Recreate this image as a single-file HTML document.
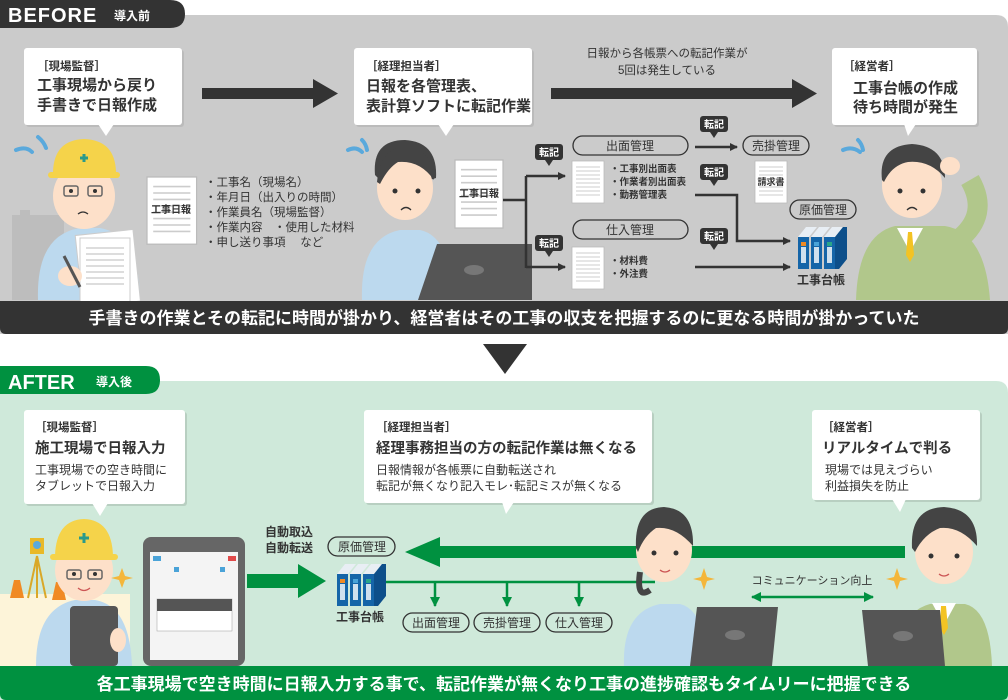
<!DOCTYPE html>
<html><head><meta charset="utf-8"><style>
html,body{margin:0;padding:0;background:#fff;}
svg{display:block;}
text{font-family:"Liberation Sans","Noto Sans CJK JP",sans-serif;}
.b{font-weight:bold;}
</style></head><body>
<svg width="1008" height="700" viewBox="0 0 1008 700" xmlns="http://www.w3.org/2000/svg">
<defs>
<marker id="ad" markerWidth="8" markerHeight="8" refX="7" refY="4" orient="auto" markerUnits="userSpaceOnUse"><path d="M0,0 L8,4 L0,8z" fill="#333"/></marker>
<marker id="ag" markerWidth="10" markerHeight="10" refX="9" refY="5" orient="auto" markerUnits="userSpaceOnUse"><path d="M0,0 L10,5 L0,10z" fill="#009140"/></marker>
<marker id="ag2" markerWidth="10" markerHeight="10" refX="1" refY="5" orient="auto" markerUnits="userSpaceOnUse"><path d="M10,0 L0,5 L10,10z" fill="#009140"/></marker>
<g id="doc"><rect x="0" y="0" width="32" height="42" fill="#fff" stroke="#bbb" stroke-width="0.8"/><g stroke="#ccc" stroke-width="1"><line x1="4" y1="6" x2="28" y2="6"/><line x1="4" y1="10" x2="28" y2="10"/><line x1="4" y1="14" x2="28" y2="14"/><line x1="4" y1="18" x2="28" y2="18"/><line x1="4" y1="22" x2="28" y2="22"/><line x1="4" y1="26" x2="28" y2="26"/><line x1="4" y1="30" x2="28" y2="30"/><line x1="4" y1="34" x2="28" y2="34"/></g></g>
<g id="binders"><g><path d="M0,12 L8,2 L19,2 L11,12z" fill="#e8eef4"/><rect x="0" y="12" width="11" height="32" fill="#1565a8"/></g><g transform="translate(13,0)"><path d="M0,12 L8,2 L19,2 L11,12z" fill="#e8eef4"/><rect x="0" y="12" width="11" height="32" fill="#1565a8"/></g><g transform="translate(26,0)"><path d="M0,12 L8,2 L19,2 L11,12z" fill="#e8eef4"/><rect x="0" y="12" width="11" height="32" fill="#1565a8"/></g><path d="M37,12 L45,2 L49,2 L49,34 L41,44 L37,44z" fill="#0d4f8a"/><rect x="3" y="17" width="5" height="4" fill="#f08a24"/><rect x="16" y="17" width="5" height="4" fill="#4aa3d8"/><rect x="29" y="17" width="5" height="4" fill="#2aa58a"/><g fill="#cfe0ee"><rect x="3" y="22" width="5" height="16"/><rect x="16" y="22" width="5" height="16"/><rect x="29" y="22" width="5" height="16"/></g></g>
<g id="tag"><rect x="0" y="0" width="28" height="16" rx="3" fill="#333"/><path d="M10,16 L14,22 L18,16z" fill="#333"/><text x="14" y="12" font-size="10" fill="#fff" text-anchor="middle" class="b">転記</text></g>
</defs>

<!-- BEFORE panel -->
<path d="M0,15 H996 Q1008,15 1008,27 V334 H0z" fill="#cbcbcb"/>
<path d="M0,0 H170 Q185,0 185,14 Q185,28 170,28 H0z" fill="#333"/>
<text x="8" y="22" font-size="20" fill="#fff" class="b" letter-spacing="1">BEFORE</text>
<text x="114" y="20" font-size="12" fill="#fff" class="b">導入前</text>

<rect x="12" y="215" width="52" height="85" fill="#bdbdbd"/><rect x="20" y="210" width="10" height="8" fill="#bdbdbd"/>

<rect x="26" y="50" width="158" height="77" rx="3" fill="#bbb"/>
<rect x="24" y="48" width="158" height="77" rx="3" fill="#fff"/><path d="M98,124 L106,136 L114,124z" fill="#fff"/>
<text x="37" y="70" font-size="11.5" fill="#333" class="b">［現場監督］</text>
<text x="37" y="90" font-size="15" fill="#333" class="b">工事現場から戻り</text>
<text x="37" y="110" font-size="15" fill="#333" class="b">手書きで日報作成</text>

<rect x="356" y="50" width="178" height="77" rx="3" fill="#bbb"/>
<rect x="354" y="48" width="178" height="77" rx="3" fill="#fff"/><path d="M438,124 L446,136 L454,124z" fill="#fff"/>
<text x="366" y="70" font-size="11.5" fill="#333" class="b">［経理担当者］</text>
<text x="366" y="91" font-size="15" fill="#333" class="b">日報を各管理表、</text>
<text x="366" y="111" font-size="15" fill="#333" class="b">表計算ソフトに転記作業</text>

<rect x="834" y="50" width="145" height="77" rx="3" fill="#bbb"/>
<rect x="832" y="48" width="145" height="77" rx="3" fill="#fff"/><path d="M904,124 L908,136 L916,124z" fill="#fff"/>
<text x="843" y="70" font-size="11.5" fill="#333" class="b">［経営者］</text>
<text x="853" y="93" font-size="15" fill="#333" class="b">工事台帳の作成</text>
<text x="853" y="112" font-size="15" fill="#333" class="b">待ち時間が発生</text>

<path d="M202,88 H313 V79 L338,93.5 L313,108 V99 H202z" fill="#333"/>
<path d="M551,88 H792 V79 L817,93.5 L792,108 V99 H551z" fill="#333"/>
<text x="667" y="57" font-size="11.5" fill="#333" text-anchor="middle">日報から各帳票への転記作業が</text>
<text x="667" y="74" font-size="11.5" fill="#333" text-anchor="middle">5回は発生している</text>

<g>
<path d="M16,150 Q26,146 32,152" stroke="#5aa9dc" stroke-width="4" fill="none" stroke-linecap="round"/>
<path d="M38,137 Q44,142 46,148" stroke="#5aa9dc" stroke-width="4" fill="none" stroke-linecap="round"/>
<path d="M38,300 Q36,235 80,228 H100 Q140,235 140,300z" fill="#bcd9ee"/>
<ellipse cx="84" cy="196" rx="31" ry="33" fill="#fde0c9"/>
<path d="M53,172 Q54,140 84,139 Q115,140 116,172z" fill="#f5d34a"/><rect x="48" y="172" width="72" height="6" rx="3" fill="#f5d34a"/>
<path d="M80,158 h8 M84,154 v8" stroke="#2a9a8a" stroke-width="3"/>
<rect x="64" y="186" width="14" height="10" rx="2" fill="none" stroke="#666" stroke-width="1.5"/><rect x="88" y="186" width="14" height="10" rx="2" fill="none" stroke="#666" stroke-width="1.5"/>
<circle cx="71" cy="191" r="2" fill="#333"/><circle cx="95" cy="191" r="2" fill="#333"/>
<path d="M78,214 Q83,210 88,214" stroke="#333" stroke-width="1.3" fill="none"/>
<g transform="rotate(-6 110 260)"><rect x="78" y="232" width="58" height="72" fill="#fff" stroke="#ccc"/></g>
<rect x="80" y="238" width="50" height="64" fill="#fff" stroke="#ccc"/>
<g stroke="#bbb"><line x1="86" y1="248" x2="124" y2="248"/><line x1="86" y1="254" x2="124" y2="254"/><line x1="86" y1="260" x2="124" y2="260"/><line x1="86" y1="266" x2="124" y2="266"/><line x1="86" y1="272" x2="124" y2="272"/><line x1="86" y1="278" x2="124" y2="278"/><line x1="86" y1="284" x2="124" y2="284"/></g>
<ellipse cx="70" cy="276" rx="12" ry="10" fill="#fde0c9"/><line x1="64" y1="256" x2="80" y2="287" stroke="#555" stroke-width="3"/>
</g>
<use href="#doc" transform="translate(147,177) scale(1.55,1.6)"/>
<text x="171" y="213" font-size="10" fill="#333" class="b" text-anchor="middle">工事日報</text>
<g font-size="11.5" fill="#333">
<text x="205" y="186">・工事名（現場名）</text>
<text x="205" y="201">・年月日（出入りの時間）</text>
<text x="205" y="216">・作業員名（現場監督）</text>
<text x="205" y="231">・作業内容　・使用した材料</text>
<text x="205" y="246">・申し送り事項　 など</text>
</g>

<g>
<path d="M348,150 Q356,146 362,152" stroke="#5aa9dc" stroke-width="4" fill="none" stroke-linecap="round"/>
<path d="M362,140 Q366,144 367,150" stroke="#5aa9dc" stroke-width="4" fill="none" stroke-linecap="round"/>
<path d="M362,300 Q360,238 400,230 H420 Q450,236 455,300z" fill="#bcd9ee"/>
<path d="M375,175 Q372,140 405,140 Q438,142 436,178 L430,180 Q420,160 400,156 Q385,165 380,180z" fill="#444"/>
<ellipse cx="405" cy="188" rx="28" ry="32" fill="#fde0c9"/>
<path d="M377,182 Q380,148 405,146 Q432,148 434,180 Q420,160 398,162 Q388,168 380,184z" fill="#444"/>
<circle cx="395" cy="191" r="2.5" fill="#333"/><circle cx="418" cy="191" r="2.5" fill="#333"/>
<path d="M401,210 Q406,205 411,210" stroke="#333" stroke-width="1.3" fill="none"/>
<path d="M437,244 H532 V300 H418z" fill="#555"/>
<ellipse cx="474" cy="270" rx="10" ry="5" fill="#777"/>
</g>
<use href="#doc" transform="translate(455,160) scale(1.5,1.62)"/>
<text x="479" y="197" font-size="10" fill="#333" class="b" text-anchor="middle">工事日報</text>

<g stroke="#333" stroke-width="2.5" fill="none">
<path d="M503,200 H526"/><path d="M526,176 V268"/>
<path d="M526,176 H565" marker-end="url(#ad)"/><path d="M526,267 H565" marker-end="url(#ad)"/>
<path d="M695,147 H737" marker-end="url(#ad)"/>
<path d="M695,195 H737 V241 H790" marker-end="url(#ad)"/>
<path d="M695,267 H790" marker-end="url(#ad)"/>
</g>
<use href="#tag" x="535" y="144"/><use href="#tag" x="535" y="235"/>
<use href="#tag" x="700" y="116"/><use href="#tag" x="700" y="164"/><use href="#tag" x="700" y="228"/>
<rect x="573" y="136" width="115" height="19" rx="9.5" fill="none" stroke="#333" stroke-width="1.3"/>
<text x="630" y="150" font-size="12" fill="#333" text-anchor="middle">出面管理</text>
<rect x="573" y="220" width="115" height="19" rx="9.5" fill="none" stroke="#333" stroke-width="1.3"/>
<text x="630" y="234" font-size="12" fill="#333" text-anchor="middle">仕入管理</text>
<rect x="743" y="136" width="66" height="19" rx="9.5" fill="none" stroke="#333" stroke-width="1.3"/>
<text x="776" y="150" font-size="12" fill="#333" text-anchor="middle">売掛管理</text>
<rect x="790" y="200" width="66" height="19" rx="9.5" fill="none" stroke="#333" stroke-width="1.3"/>
<text x="823" y="214" font-size="12" fill="#333" text-anchor="middle">原価管理</text>
<use href="#doc" transform="translate(572,161)"/><use href="#doc" transform="translate(572,247)"/><use href="#doc" transform="translate(755,161)"/>
<text x="771" y="185" font-size="9" fill="#333" class="b" text-anchor="middle">請求書</text>
<g font-size="9.5" fill="#333" class="b">
<text x="610" y="172">・工事別出面表</text><text x="610" y="185">・作業者別出面表</text><text x="610" y="198">・勤務管理表</text>
<text x="610" y="264">・材料費</text><text x="610" y="277">・外注費</text>
</g>
<use href="#binders" transform="translate(798,225)"/>
<text x="821" y="284" font-size="12" fill="#333" class="b" text-anchor="middle">工事台帳</text>

<g>
<path d="M843,150 Q852,146 860,152" stroke="#5aa9dc" stroke-width="4" fill="none" stroke-linecap="round"/>
<path d="M858,140 Q862,144 863,150" stroke="#5aa9dc" stroke-width="4" fill="none" stroke-linecap="round"/>
<path d="M856,300 Q858,235 895,226 H945 Q985,232 990,300z" fill="#b1c78b"/>
<path d="M958,240 Q990,215 970,180" stroke="#b1c78b" stroke-width="20" fill="none"/>
<path d="M897,228 L910,252 L923,228z" fill="#fff"/><path d="M908,232 L912,232 L914,255 L910,262 L906,255z" fill="#f3c323"/>
<ellipse cx="912" cy="185" rx="30" ry="33" fill="#fde0c9"/>
<path d="M882,180 Q878,146 912,144 Q945,146 945,178 Q930,160 908,162 Q892,165 884,182z" fill="#444"/>
<ellipse cx="950" cy="166" rx="10" ry="9" fill="#fde0c9"/>
<circle cx="900" cy="191" r="2.5" fill="#333"/><circle cx="923" cy="191" r="2.5" fill="#333"/>
<path d="M907,210 Q912,205 917,210" stroke="#333" stroke-width="1.3" fill="none"/>
</g>

<path d="M0,301 H1008 V328 Q1008,334 1002,334 H6 Q0,334 0,328z" fill="#333"/>
<text x="504" y="324" font-size="17" fill="#fff" class="b" text-anchor="middle">手書きの作業とその転記に時間が掛かり、経営者はその工事の収支を把握するのに更なる時間が掛かっていた</text>
<path d="M483,344 H527 L505,374z" fill="#333"/>

<!-- AFTER -->
<path d="M0,381 H996 Q1008,381 1008,393 V700 H0z" fill="#cfe9da"/>
<path d="M0,366 H146 Q160,366 160,380 Q160,394 146,394 H0z" fill="#009140"/>
<text x="8" y="389" font-size="20" fill="#fff" class="b">AFTER</text>
<text x="96" y="386" font-size="12" fill="#fff" class="b">導入後</text>

<rect x="0" y="594" width="130" height="72" fill="#fdf4d9"/>

<rect x="26" y="412" width="161" height="94" rx="3" fill="#b8cfc1"/>
<rect x="24" y="410" width="161" height="94" rx="3" fill="#fff"/><path d="M92,503 L100,516 L108,503z" fill="#fff"/>
<text x="35" y="431" font-size="11.5" fill="#333" class="b">［現場監督］</text>
<text x="35" y="453" font-size="14.5" fill="#333" class="b">施工現場で日報入力</text>
<text x="35" y="474" font-size="12" fill="#333">工事現場での空き時間に</text>
<text x="35" y="490" font-size="12" fill="#333">タブレットで日報入力</text>

<rect x="366" y="412" width="288" height="93" rx="3" fill="#b8cfc1"/>
<rect x="364" y="410" width="288" height="93" rx="3" fill="#fff"/><path d="M502,502 L506,514 L514,502z" fill="#fff"/>
<text x="376" y="431" font-size="11.5" fill="#333" class="b">［経理担当者］</text>
<text x="376" y="453" font-size="14.5" fill="#333" class="b">経理事務担当の方の転記作業は無くなる</text>
<text x="376" y="474" font-size="12" fill="#333">日報情報が各帳票に自動転送され</text>
<text x="376" y="490" font-size="12" fill="#333">転記が無くなり記入モレ･転記ミスが無くなる</text>

<rect x="814" y="412" width="168" height="90" rx="3" fill="#b8cfc1"/>
<rect x="812" y="410" width="168" height="90" rx="3" fill="#fff"/><path d="M892,499 L900,512 L906,499z" fill="#fff"/>
<text x="822" y="431" font-size="11.5" fill="#333" class="b">［経営者］</text>
<text x="822" y="453" font-size="14.5" fill="#333" class="b">リアルタイムで判る</text>
<text x="825" y="474" font-size="12" fill="#333">現場では見えづらい</text>
<text x="825" y="490" font-size="12" fill="#333">利益損失を防止</text>

<g>
<path d="M30,538 h14 v16 h-14z" fill="#e9b928"/><circle cx="37" cy="545" r="4" fill="#5aa9dc"/>
<path d="M37,556 L28,598 M37,556 L46,598 M37,556 V598" stroke="#d9a828" stroke-width="2"/>
<path d="M10,598 L14,580 L20,580 L24,598z" fill="#f08a24"/><path d="M52,600 L56,582 L62,582 L66,600z" fill="#f08a24"/>
<path d="M36,666 Q36,608 75,600 H95 Q130,606 132,666z" fill="#bcd9ee"/>
<ellipse cx="84" cy="570" rx="29" ry="31" fill="#fde0c9"/>
<path d="M55,556 Q56,520 84,519 Q112,520 113,556z" fill="#f5d34a"/><rect x="50" y="554" width="68" height="6" rx="3" fill="#f5d34a"/>
<path d="M79,538 h10 M84,533 v10" stroke="#2a9a8a" stroke-width="3"/>
<rect x="67" y="570" width="14" height="9" rx="2" fill="none" stroke="#666" stroke-width="1.5"/><rect x="88" y="570" width="14" height="9" rx="2" fill="none" stroke="#666" stroke-width="1.5"/>
<circle cx="74" cy="574" r="2" fill="#333"/><circle cx="95" cy="574" r="2" fill="#333"/>
<path d="M78,588 Q84,593 90,588" stroke="#c55" stroke-width="1.3" fill="none"/>
<rect x="70" y="606" width="48" height="60" rx="4" fill="#555"/>
<ellipse cx="118" cy="640" rx="8" ry="12" fill="#fde0c9"/>
<path d="M122,568 L125,576 L133,578 L125,580 L122,588 L119,580 L111,578 L119,576z" fill="#f4b63a"/>
</g>
<rect x="143" y="537" width="102" height="129" rx="8" fill="#666"/>
<rect x="150" y="552" width="88" height="108" fill="#f4f4f4"/>
<rect x="153" y="556" width="8" height="5" fill="#4aa3d8"/><rect x="228" y="556" width="8" height="5" fill="#e04a4a"/>
<rect x="157" y="599" width="75" height="32" fill="#fff" stroke="#aaa" stroke-width="0.6"/><rect x="157" y="599" width="75" height="12" fill="#555"/>
<rect x="174" y="567" width="5" height="5" fill="#4aa3d8"/><rect x="220" y="567" width="5" height="5" fill="#4aa3d8"/>

<path d="M247,574 H298 V564 L326,581 L298,598 V588 H247z" fill="#009140"/>
<text x="265" y="536" font-size="12" fill="#333" class="b">自動取込</text>
<text x="265" y="552" font-size="12" fill="#333" class="b">自動転送</text>
<rect x="328" y="537" width="67" height="19" rx="9.5" fill="none" stroke="#333" stroke-width="1.3"/>
<text x="362" y="551" font-size="12" fill="#333" text-anchor="middle">原価管理</text>
<use href="#binders" transform="translate(337,562)"/>
<text x="360" y="621" font-size="12" fill="#333" class="b" text-anchor="middle">工事台帳</text>
<path d="M905,546 H440 V537 L405,552 L440,567 V558 H905z" fill="#009140"/>
<g stroke="#009140" stroke-width="2.5" fill="none">
<path d="M386,582 H655"/>
<path d="M435,582 V606" marker-end="url(#ag)"/><path d="M507,582 V606" marker-end="url(#ag)"/><path d="M579,582 V606" marker-end="url(#ag)"/>
<path d="M752,597 H873" marker-start="url(#ag2)" marker-end="url(#ag)"/>
</g>
<g font-size="12" fill="#333" text-anchor="middle">
<rect x="403" y="613" width="66" height="19" rx="9.5" fill="none" stroke="#333" stroke-width="1.3"/><text x="436" y="627">出面管理</text>
<rect x="474" y="613" width="66" height="19" rx="9.5" fill="none" stroke="#333" stroke-width="1.3"/><text x="507" y="627">売掛管理</text>
<rect x="546" y="613" width="66" height="19" rx="9.5" fill="none" stroke="#333" stroke-width="1.3"/><text x="579" y="627">仕入管理</text>
</g>
<text x="812" y="584" font-size="11" fill="#333" text-anchor="middle">コミュニケーション向上</text>

<g>
<path d="M624,666 Q622,612 660,604 H680 Q705,610 708,666z" fill="#bcd9ee"/>
<path d="M640,572 Q636,600 650,590" stroke="#444" stroke-width="6" fill="none"/>
<ellipse cx="664" cy="550" rx="28" ry="32" fill="#fde0c9"/>
<path d="M636,548 Q634,508 664,507 Q694,509 693,546 Q676,526 656,528 Q644,536 638,552z" fill="#444"/>
<circle cx="654" cy="553" r="2.5" fill="#333"/><circle cx="676" cy="553" r="2.5" fill="#333"/>
<path d="M660,570 Q665,574 670,570" stroke="#c55" stroke-width="1.3" fill="none"/>
<path d="M697,607 H778 L772,666 H690z" fill="#555"/><ellipse cx="735" cy="635" rx="10" ry="5" fill="#777"/>
<path d="M704,568 L707,577 L715,579 L707,581 L704,590 L701,581 L693,579 L701,577z" fill="#f4b63a"/>
</g>
<g>
<path d="M896,666 Q898,612 930,604 H965 Q990,610 992,666z" fill="#b1c78b"/>
<path d="M932,603 L944,625 L956,603z" fill="#fff"/><path d="M941,606 L946,606 L948,628 L944,635 L940,628z" fill="#f3c323"/>
<ellipse cx="944" cy="552" rx="29" ry="32" fill="#fde0c9"/>
<path d="M912,548 Q910,508 944,507 Q978,509 977,546 Q960,526 940,528 Q924,534 915,552z" fill="#444"/>
<circle cx="931" cy="556" r="2.5" fill="#333"/><circle cx="957" cy="556" r="2.5" fill="#333"/>
<path d="M939,574 Q944,578 949,574" stroke="#c55" stroke-width="1.3" fill="none"/>
<path d="M862,610 H940 L945,666 H868z" fill="#555"/><ellipse cx="903" cy="636" rx="10" ry="5" fill="#777"/>
<path d="M897,568 L900,577 L908,579 L900,581 L897,590 L894,581 L886,579 L894,577z" fill="#f4b63a"/>
</g>

<path d="M0,666 H1008 V694 Q1008,700 1002,700 H6 Q0,700 0,694z" fill="#009140"/>
<text x="504" y="690" font-size="17" fill="#fff" class="b" text-anchor="middle">各工事現場で空き時間に日報入力する事で、転記作業が無くなり工事の進捗確認もタイムリーに把握できる</text>
</svg>
</body></html>
